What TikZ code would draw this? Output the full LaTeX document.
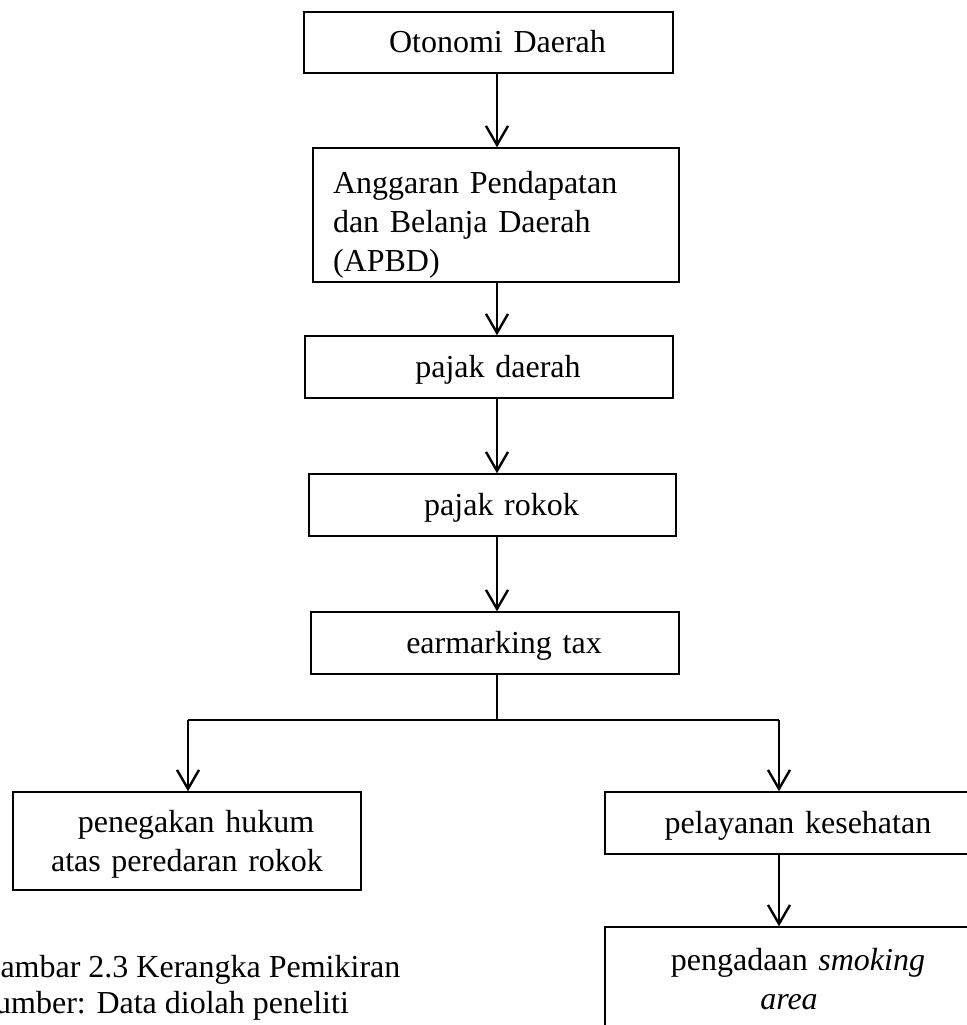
\documentclass[tikz,border=0pt]{standalone}
\usepackage{fontspec}
\setmainfont{Liberation Serif}
\usetikzlibrary{arrows.meta}

\begin{document}
\begin{tikzpicture}[x=0.5pt,y=-0.5pt,
  font=\fontsize{16}{19.5}\selectfont,
  box/.style={draw,line width=0.7pt,inner sep=0pt,align=center},
  one/.style={text height=11pt,text depth=1pt},
  arr/.style={line width=1.2pt,-{Straight Barb[length=9.5pt,width=11pt]}},
  link/.style={line width=0.7pt}]
 \def\u{0.5pt}
 \useasboundingbox (0,0) rectangle (966,1025);

 \coordinate (spine) at (497,0);
 \coordinate (fork) at (497,720);
 \coordinate (forkl) at (188,720);
 \coordinate (forkr) at (779,720);

 \node[box,one,minimum width=369*\u,minimum height=61*\u,text width=369*\u] (otonomi) at (488.5,42.5) {\hspace*{9pt}Otonomi Daerah};
 \node[box,align=left,inner xsep=10pt,text width=163pt,text height=20pt,text depth=42pt,minimum width=366*\u,minimum height=134*\u] (apbd) at (496,215) {Anggaran Pendapatan\\dan Belanja Daerah\\(APBD)};
 \node[box,one,minimum width=368*\u,minimum height=62*\u,text width=368*\u] (pajakdaerah) at (489,367) {\hspace*{9pt}pajak daerah};
 \node[box,one,minimum width=367*\u,minimum height=62*\u,text width=367*\u] (pajakrokok) at (492.5,505) {\hspace*{9pt}pajak rokok};
 \node[box,one,minimum width=368*\u,minimum height=62*\u,text width=368*\u] (earmark) at (495,643) {\hspace*{9pt}earmarking tax};

 \node[box,text height=13pt,text depth=22pt,minimum width=348*\u,minimum height=98*\u,text width=348*\u] (penegakan) at (187,841) {\hspace*{9pt}penegakan hukum\\atas peredaran rokok};
 \node[box,one,minimum width=386*\u,minimum height=62*\u,text width=386*\u] (pelayanan) at (798,823) {pelayanan kesehatan};
 \node[box,text height=10pt,text depth=27pt,minimum width=386*\u,minimum height=120*\u,text width=386*\u] (pengadaan) at (798,987) {pengadaan \textit{smoking}\\\hspace*{-9pt}\textit{area}};

 \node[anchor=base west,align=left,inner sep=0pt,font=\fontsize{16}{18}\selectfont] (caption) at (-23,1013) {Gambar 2.3 Kerangka Pemikiran\\Sumber: Data diolah peneliti};

 \draw[arr] (otonomi.south -| spine) -- (apbd.north -| spine);
 \draw[arr] (apbd.south -| spine) -- (pajakdaerah.north -| spine);
 \draw[arr] (pajakdaerah.south -| spine) -- (pajakrokok.north -| spine);
 \draw[arr] (pajakrokok.south -| spine) -- (earmark.north -| spine);
 \draw[link] (earmark.south -| spine) -- (fork);
 \draw[link] (forkl) -- (forkr);
 \draw[arr] (forkl) -- (penegakan.north -| forkl);
 \draw[arr] (forkr) -- (pelayanan.north -| forkr);
 \draw[arr] (pelayanan.south -| forkr) -- (pengadaan.north -| forkr);
\end{tikzpicture}
\end{document}
